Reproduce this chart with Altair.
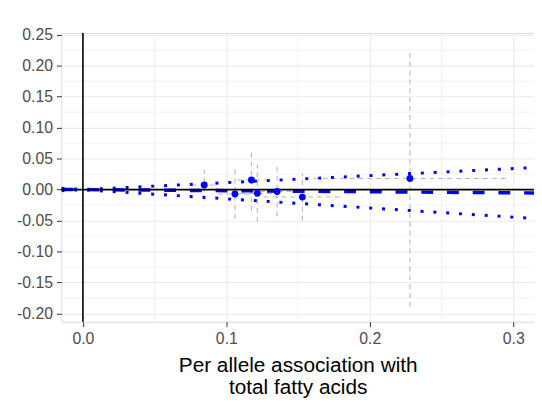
import altair as alt
import pandas as pd

# SNP estimates
bx = [0.0846, 0.106, 0.1175, 0.1216, 0.1354, 0.153, 0.228]
by = [0.0075, -0.007, 0.0155, -0.006, -0.003, -0.012, 0.018]
bx_se = [0.009, 0.012, 0.010, 0.012, 0.012, 0.027, 0.067]
by_se = [0.025, 0.040, 0.050, 0.046, 0.040, 0.038, 0.207]

# fitted line and confidence limits at the panel edges
fit_x = [-0.015, 0.315]
fit_est = [0.0003, -0.0054]
fit_upper = [-0.0017, 0.0356]
fit_lower = [0.0022, -0.0466]

x_major = [0.0, 0.1, 0.2, 0.3]
x_minor = [0.05, 0.15, 0.25]
y_major = [-0.20, -0.15, -0.10, -0.05, 0.0, 0.05, 0.10, 0.15, 0.20, 0.25]
y_minor = [-0.175, -0.125, -0.075, -0.025, 0.025, 0.075, 0.125, 0.175, 0.225]

XDOM = [-0.015, 0.3145]
YDOM = [-0.213, 0.2527]

pts = pd.DataFrame({
    "x": bx, "y": by,
    "xlo": [a - s for a, s in zip(bx, bx_se)], "xhi": [a + s for a, s in zip(bx, bx_se)],
    "ylo": [a - s for a, s in zip(by, by_se)], "yhi": [a + s for a, s in zip(by, by_se)],
})

xs = alt.Scale(domain=XDOM, nice=False, zero=False)
ys = alt.Scale(domain=YDOM, nice=False, zero=False)

FONT = "Liberation Sans"
x_axis = alt.Axis(values=x_major, grid=True, gridColor="#EBEBEB", gridWidth=1.1,
                  labelExpr="(datum.value < 0 ? '-' : '') + format(abs(datum.value), '.1f')",
                  labelFontSize=16, labelColor="#4D4D4D", labelFont=FONT, labelOverlap=False,
                  tickColor="#333333", tickSize=5, domain=False, labelPadding=4,
                  title=["Per allele association with", "total fatty acids"],
                  titleFontSize=21, titleFont=FONT, titleFontWeight="normal",
                  titleColor="#000000", titlePadding=8, titleLineHeight=23)
y_axis = alt.Axis(values=y_major, grid=True, gridColor="#EBEBEB", gridWidth=1.1,
                  labelExpr="(datum.value < 0 ? '-' : '') + format(abs(datum.value), '.2f')",
                  labelFontSize=16, labelColor="#4D4D4D", labelFont=FONT, labelOverlap=False,
                  tickColor="#333333", tickSize=5, domain=False, labelPadding=4, title=None)


def X(field, **kw):
    return alt.X(field, scale=xs, axis=x_axis, **kw)


def Y(field, **kw):
    return alt.Y(field, scale=ys, axis=y_axis, **kw)


base = alt.Chart(pts)

minor_x = alt.Chart(pd.DataFrame({"v": x_minor})).mark_rule(color="#EBEBEB", strokeWidth=0.6).encode(
    x=X("v:Q"))
minor_y = alt.Chart(pd.DataFrame({"v": y_minor})).mark_rule(color="#EBEBEB", strokeWidth=0.6).encode(
    y=Y("v:Q"))

vbars = base.mark_rule(color="#B8B8B8", strokeWidth=1.1, strokeDash=[5, 4]).encode(
    x=X("x:Q"), y=Y("ylo:Q"), y2="yhi:Q")
hbars = base.mark_rule(color="#B8B8B8", strokeWidth=1.1, strokeDash=[5, 4]).encode(
    y=Y("y:Q"), x=X("xlo:Q"), x2="xhi:Q")

fit = pd.DataFrame({"x": fit_x, "est": fit_est, "up": fit_upper, "lo": fit_lower})
fb = alt.Chart(fit)
up_line = fb.mark_line(color="#0000FF", strokeWidth=3, strokeDash=[3, 10], clip=True).encode(
    x=X("x:Q"), y=Y("up:Q"))
lo_line = fb.mark_line(color="#0000FF", strokeWidth=3, strokeDash=[3, 10], clip=True).encode(
    x=X("x:Q"), y=Y("lo:Q"))
est_line = fb.mark_line(color="#0000FF", strokeWidth=3.5, strokeDash=[12, 14], clip=True).encode(
    x=X("x:Q"), y=Y("est:Q"))

zero = pd.DataFrame({"z": [0.0]})
hline = alt.Chart(zero).mark_rule(color="#000000", strokeWidth=1.6).encode(y=Y("z:Q"))
vline = alt.Chart(zero).mark_rule(color="#000000", strokeWidth=1.6).encode(x=X("z:Q"))

points = base.mark_circle(color="#0000FF", opacity=1, size=48).encode(
    x=X("x:Q"), y=Y("y:Q"))

chart = alt.layer(minor_x, minor_y, vbars, hbars, up_line, lo_line, est_line, hline, vline, points).properties(
    width=478, height=292,
    autosize=alt.AutoSizeParams(type="none"),
    padding={"left": 54, "top": 23, "right": 0, "bottom": 79},
).configure_view(stroke="#333333", strokeWidth=1.2).configure(background="white")

chart.save("out.html", embed_options={"renderer": "svg", "actions": False})
